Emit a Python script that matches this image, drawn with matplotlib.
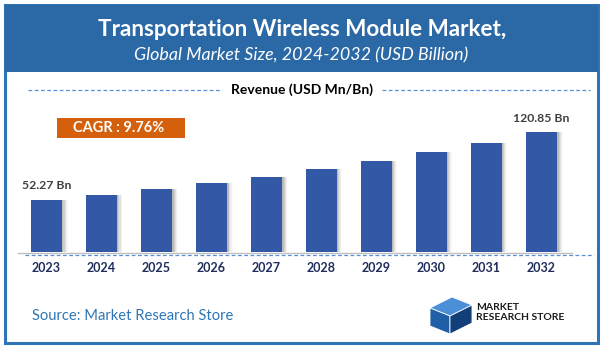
import numpy as np
import matplotlib.pyplot as plt
from matplotlib.patches import Rectangle, Polygon
from matplotlib.lines import Line2D

years = ["2023", "2024", "2025", "2026", "2027", "2028", "2029", "2030", "2031", "2032"]
revenue = [52.27, 57.4, 63.0, 69.1, 75.9, 83.3, 91.4, 100.3, 110.1, 120.85]
label_first = "52.27 Bn"
label_last = "120.85 Bn"
cagr_text = "CAGR : 9.76%"
title = "Transportation Wireless Module Market,"
subtitle = "Global Market Size, 2024-2032 (USD Billion)"
legend_text = "Revenue (USD Mn/Bn)"
source_text = "Source: Market Research Store"

W, H = 603, 350
FONT = "Lato"
plt.rcParams['font.family'] = [FONT, 'DejaVu Sans']

fig = plt.figure(figsize=(W / 100, H / 100), dpi=100)


def fx(px):
    return px / W


def fy(py):
    # py measured from the top of the picture
    return 1 - py / H


# frame and header
fig.patches.append(Rectangle((fx(5), fy(343)), fx(593), (338) / H, transform=fig.transFigure,
                             fill=False, edgecolor="#2E75B6", linewidth=2.2))
fig.patches.append(Rectangle((fx(5), fy(72)), fx(593), 67 / H, transform=fig.transFigure,
                             facecolor="#2B69A6", edgecolor="none"))
fig.text(fx(302), fy(29), title, ha="center", va="center", color="white",
         fontsize=16.2, fontweight="bold")
fig.text(fx(301), fy(55), subtitle, ha="center", va="center", color="white",
         fontsize=12.9, style="italic")

# legend line
fig.text(fx(302), fy(90), legend_text, ha="center", va="center", color="black",
         fontsize=10, fontweight="bold")
dash_col = "#5B8FD6"
fig.add_artist(Line2D([fx(28), fx(222)], [fy(90), fy(90)], color=dash_col, lw=0.9,
                      linestyle=(0, (3, 2))))
fig.add_artist(Line2D([fx(382), fx(590)], [fy(90), fy(90)], color=dash_col, lw=0.9,
                      linestyle=(0, (3, 2))))

# CAGR badge
fig.patches.append(Rectangle((fx(57), fy(138)), fx(128), 20 / H, transform=fig.transFigure,
                             facecolor="#D4600C", edgecolor="none"))
fig.text(fx(119), fy(128), cagr_text, ha="center", va="center", color="white",
         fontsize=10.5, fontweight="bold")

# bar axes: 55 px per category, first centre at x=46.5 px, baseline at y=252 px
px_per_unit = 0.993
ax = fig.add_axes([0, 98 / H, 1, 252 / H])
ax.set_xlim(-46.5 / 55, (W - 46.5) / 55)
ax.set_ylim(0, 252 / px_per_unit)
ax.axis("off")

x = np.arange(len(years))
bw = 31 / 55
for k, a in enumerate([0.10, 0.08, 0.06, 0.04, 0.02]):
    ax.bar(x + (k + 1.5) / 55, revenue, width=bw, color="black", alpha=a, zorder=1)
ax.bar(x, revenue, width=bw, color="#3358A6", zorder=2)

ax.text(x[0], revenue[0] + 9, label_first, ha="center", va="bottom", color="#404040",
        fontsize=8.8, fontweight="bold")
ax.text(x[-1], revenue[-1] + 8, label_last, ha="center", va="bottom", color="#404040",
        fontsize=8.8, fontweight="bold")

# baselines
fig.add_artist(Line2D([fx(18), fx(572)], [fy(252.5), fy(252.5)], color="#BFBFBF", lw=1))
fig.add_artist(Line2D([fx(25), fx(594)], [fy(254.5), fy(254.5)], color=dash_col, lw=0.9,
                      linestyle=(0, (3, 2))))

for i, yr in enumerate(years):
    fig.text(fx(46.5 + 55 * i), fy(268), yr, ha="center", va="center", color="#1F2D5C",
             fontsize=9, fontweight="bold")

# source
fig.text(fx(32), fy(316), source_text, ha="left", va="center", color="#2E75B6", fontsize=10.6)

# logo: simple blue block
logo = [
    [(430, 308), (452, 297), (472, 305), (450, 316)],
    [(430, 308), (450, 316), (450, 334), (430, 326)],
    [(450, 316), (472, 305), (472, 323), (450, 334)],
]
shades = ["#4A8FD8", "#1F5FA8", "#123F7A"]
for pts, c in zip(logo, shades):
    fig.patches.append(Polygon([(fx(a), fy(b)) for a, b in pts], closed=True,
                               transform=fig.transFigure, facecolor=c, edgecolor="white", lw=0.6))
fig.text(fx(476), fy(308), "MARKET", ha="left", va="center", color="#1A1A1A",
         fontsize=7.5, fontweight="bold")
fig.text(fx(476), fy(318), "RESEARCH STORE", ha="left", va="center", color="#1A1A1A",
         fontsize=7.5, fontweight="bold")

fig.savefig("out.png", dpi=100)
